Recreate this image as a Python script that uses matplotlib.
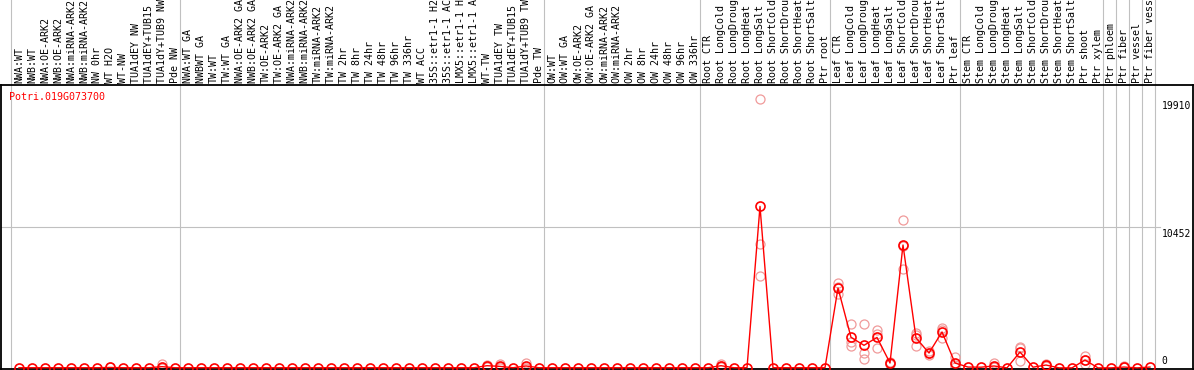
import numpy as np
import matplotlib.pyplot as plt

gene = "Potri.019G073700"

labels = [
    # group 1
    "NWA:WT", "NWB:WT", "NWA:OE-ARK2", "NWB:OE-ARK2", "NWA:miRNA-ARK2", "NWB:miRNA-ARK2",
    "NW 0hr", "WT H2O", "WT-NW", "TUA1dEY NW", "TUA1dEY+TUB15 NW", "TUA1dY+TUB9 NW", "Pde NW",
    # group 2
    "NWA:WT GA", "NWBWT GA", "TW:WT", "TW:WT GA", "NWA:OE-ARK2 GA", "NWB:OE-ARK2 GA",
    "TW:OE-ARK2", "TW:OE-ARK2 GA", "NWA:miRNA-ARK2 GA", "NWB:miRNA-ARK2 GA", "TW:miRNA-ARK2",
    "TW:miRNA-ARK2 GA", "TW 2hr", "TW 8hr", "TW 24hr", "TW 48hr", "TW 96hr", "TW 336hr",
    "WT ACC", "35S::etr1-1 H2O", "35S::etr1-1 ACC", "LMX5::etr1-1 H2O", "LMX5::etr1-1 ACC",
    "WT-TW", "TUA1dEY TW", "TUA1dEY+TUB15 TW", "TUA1dY+TUB9 TW", "Pde TW",
    # group 3
    "OW:WT", "OW:WT GA", "OW:OE-ARK2", "OW:OE-ARK2 GA", "OW:miRNA-ARK2", "OW:miRNA-ARK2 GA",
    "OW 2hr", "OW 8hr", "OW 24hr", "OW 48hr", "OW 96hr", "OW 336hr",
    # root
    "Root CTR", "Root LongCold", "Root LongDrought", "Root LongHeat", "Root LongSalt",
    "Root ShortCold", "Root ShortDrought", "Root ShortHeat", "Root ShortSalt", "Ptr root",
    # leaf
    "Leaf CTR", "Leaf LongCold", "Leaf LongDrought", "Leaf LongHeat", "Leaf LongSalt",
    "Leaf ShortCold", "Leaf ShortDrought", "Leaf ShortHeat", "Leaf ShortSalt", "Ptr leaf",
    # stem
    "Stem CTR", "Stem LongCold", "Stem LongDrought", "Stem LongHeat", "Stem LongSalt",
    "Stem ShortCold", "Stem ShortDrought", "Stem ShortHeat", "Stem ShortSalt", "Ptr shoot",
    "Ptr xylem",
    # tissues
    "Ptr phloem", "Ptr fiber", "Ptr vessel", "Ptr fiber vessel",
]

means = (
    [20, 20, 20, 20, 20, 20, 20, 40, 20, 20, 20, 100, 20]
    + [20] * 23 + [170, 120, 20, 150, 20]
    + [20] * 12
    + [20, 170, 20, 20, 11970, 20, 20, 20, 20, 20]
    + [5927, 2273, 1680, 2263, 370, 9110, 2230, 1110, 2670, 370]
    + [70, 60, 150, 10, 1185, 60, 220, 10, 10, 590, 10]
    + [10, 70, 10, 70]
)

# replicate samples (only the ones that stand out from the mean)
rep_cols = [7, 11, 36, 37, 39, 54, 57, 63, 64, 65, 66, 67, 68, 69, 70, 71, 72, 75, 77, 79, 82, 85]
rep_vals = [
    [100], [300, 20, 20], [250, 150, 110], [300, 40, 20], [400, 30, 20], [300, 150, 60],
    [19910, 9185, 6815], [6300, 5480, 6000], [3260, 1930, 1630], [3260, 1110, 670],
    [2810, 2500, 1480], [450, 330, 330], [10960, 7330, 9040], [2590, 1630, 2470],
    [1250, 1000, 1080], [2960, 2220, 2830], [815, 100, 200], [350, 60, 40],
    [1560, 520, 1475], [300, 180, 180], [890, 300, 580], [120, 50, 40],
]

# last column index of each group (gray separators)
group_ends = [-1, 12, 40, 52, 62, 72, 83, 84, 85, 86, 87]

y_ticks = [19910, 10452, 0]

W, H = 1194, 370
fig = plt.figure(figsize=(W / 100, H / 100), dpi=100)
ax = fig.add_axes([1 / W, 1 / H, 1192 / W, 284 / H])

x = np.arange(len(labels))
ax.set_xlim(-18 / 13, 1174 / 13)
ax.set_ylim(-74, 20963)

for g in group_ends:
    ax.axvline(g + 0.42, ymin=0, ymax=1.31, color="#c0c0c0", lw=0.8, clip_on=False, zorder=1)

ax.plot([-2, 87.8], [y_ticks[1], y_ticks[1]], color="#c0c0c0", lw=0.8, zorder=1)

for c, vals in zip(rep_cols, rep_vals):
    ax.plot([c] * len(vals), vals, "o", mfc="none", mec="#f09a9a", ms=6.5, mew=0.9,
            zorder=2, clip_on=False)

ax.plot(x, means, "-", color="#ff0000", lw=1.0, zorder=3)
ax.plot(x, means, "o", mfc="none", mec="#ff0000", ms=6.5, mew=1.2, zorder=4, clip_on=False)

ax.set_xticks([])
ax.set_yticks([])
for s in ax.spines.values():
    s.set_color("black")
    s.set_linewidth(1.3)

mono = "DejaVu Sans Mono"
for i, lab in enumerate(labels):
    xp = (19 + 13 * i) / W
    fig.text(xp, (H - 83) / H, lab, rotation=90, ha="center", va="bottom",
             family=mono, fontsize=7.2, color="black")

fig.text(9 / W, (H - 97) / H, gene, ha="left", va="center", family=mono,
         fontsize=7.2, color="#ff0000")

for v in y_ticks:
    ax.text(87.9, v + (180 if v == 0 else -150), str(v), ha="left",
            va="bottom" if v == 0 else "top", family=mono, fontsize=7.0, color="black")

fig.savefig("out.png", dpi=100)
